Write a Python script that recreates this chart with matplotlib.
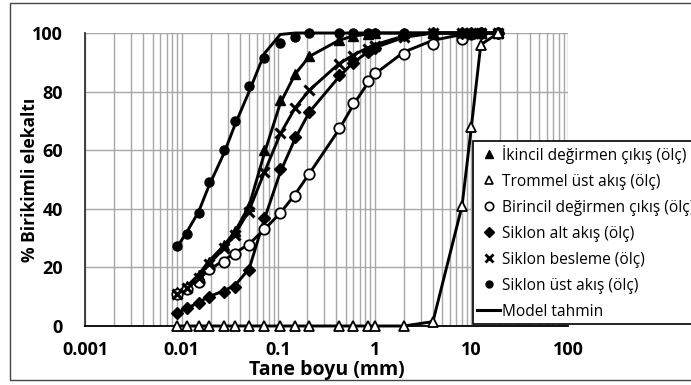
import matplotlib
matplotlib.use("Agg")
import matplotlib.pyplot as plt
from matplotlib.lines import Line2D
from matplotlib.patches import Rectangle

plt.rcParams['font.family'] = ['Open Sans', 'DejaVu Sans']

# Sieve sizes (mm)
sizes = [0.009, 0.0113, 0.015, 0.019, 0.0275, 0.036, 0.05, 0.072, 0.105, 0.15, 0.21,
         0.425, 0.6, 0.85, 1.0, 2.0, 4.0, 8.0, 10.0, 12.5, 19.0]

# Measured cumulative passing (%)
ikincil = [11.5, 13.5, 17.5, 22, 27.5, 32.5, 41, 60, 77, 86, 92,
           97.5, 99, 99.5, 100, 100, 100, 100, 100, 100, 100]
trommel = [0, 0, 0, 0, 0, 0, 0, 0, 0, 0, 0,
           0, 0, 0, 0, 0, 1.5, 41, 68, 96, 100]
birincil = [11, 12.5, 15, 19.5, 22, 24.5, 27.5, 33, 38.5, 44.5, 52,
            67.5, 76, 83.5, 86.3, 92.8, 96.2, 98, 99.5, 100, 100]
siklon_alt = [4.4, 6, 7.8, 10, 11.6, 13.3, 19, 37, 53.6, 64.5, 73,
              85.7, 89.7, 93.5, 95, 99.3, 100, 100, 100, 100, 100]
siklon_besleme = [11, 13, 16.5, 21, 26.5, 31, 39, 52.5, 66, 74.5, 80.5,
                  89.5, 92, 94.5, 95.5, 98.5, 100, 100, 100, 100, 100]
siklon_ust = [27.3, 31.5, 38.6, 49, 60, 70, 82, 91.5, 96.5, 98.5, 100,
              100, 100, 100, 100, 100, 100, 100, 100, 100, 100]

# Model predictions (%)
m_ikincil = [11.5, 13.5, 17.5, 22, 27.5, 32.5, 41, 59, 76, 86, 92,
             97.5, 99, 99.6, 100, 100, 100, 100, 100, 100, 100]
m_trommel = [0, 0, 0, 0, 0, 0, 0, 0, 0, 0, 0,
             0, 0, 0, 0, 0, 1.5, 41, 68, 96, 100]
m_birincil = [11, 13, 16, 19, 22.5, 25, 28, 33, 38.5, 45, 52,
              67, 75.5, 83, 86, 93.5, 97.5, 99.5, 99.8, 100, 100]
m_alt = [4.5, 6, 8, 10, 12, 14, 19.5, 36.5, 52.5, 64, 73,
         85, 90, 93.5, 95, 98.5, 100, 100, 100, 100, 100]
m_besleme = [11, 13, 16.5, 21, 26.5, 31.5, 39.5, 52.5, 65.5, 74.5, 80.5,
             89.5, 92.5, 95, 96, 99, 100, 100, 100, 100, 100]
m_ust = [27, 32, 39, 47.5, 59, 69, 80, 93, 99.5, 100, 100,
         100, 100, 100, 100, 100, 100, 100, 100, 100, 100]

labels = ["İkincil değirmen çıkış (ölç)", "Trommel üst akış (ölç)",
          "Birincil değirmen çıkış (ölç)", "Siklon alt akış (ölç)",
          "Siklon besleme (ölç)", "Siklon üst akış (ölç)", "Model tahmin"]

W, H = 691, 385
fig = plt.figure(figsize=(W / 100, H / 100), dpi=100)
ax = fig.add_axes([85 / W, 1 - 326 / H, (568 - 85) / W, (326 - 33) / H])

ax.set_xscale('log')
ax.set_xlim(0.001, 100)
ax.set_ylim(0, 100)

ax.grid(True, which='both', axis='x', color='#a8a8a8', lw=1.0)
ax.grid(True, which='major', axis='y', color='#a8a8a8', lw=1.0)
ax.set_axisbelow(True)
for s in ['top', 'right']:
    ax.spines[s].set_visible(False)
for s in ['left', 'bottom']:
    ax.spines[s].set_color('black')
    ax.spines[s].set_linewidth(1.3)
ax.spines['left'].set_color('#333333')

ax.set_xticks([0.001, 0.01, 0.1, 1, 10, 100])
ax.set_xticklabels(['0.001', '0.01', '0.1', '1', '10', '100'])
ax.set_yticks([0, 20, 40, 60, 80, 100])
ax.tick_params(axis='both', which='both', length=0)
ax.tick_params(axis='x', pad=11, labelsize=13)
ax.tick_params(axis='y', pad=16, labelsize=13)
for t in ax.get_xticklabels() + ax.get_yticklabels():
    t.set_fontweight('bold')

lw = 2.1
for m in [m_ikincil, m_trommel, m_birincil, m_alt, m_besleme, m_ust]:
    ax.plot(sizes, m, color='black', lw=lw, zorder=3, clip_on=False)

ax.plot(sizes, ikincil, ls='none', marker='^', ms=7.5, color='black', zorder=4, clip_on=False)
ax.plot(sizes, trommel, ls='none', marker='^', ms=7.5, mfc='white', mec='black', mew=1.3, zorder=5, clip_on=False)
ax.plot(sizes, birincil, ls='none', marker='o', ms=7.5, mfc='white', mec='black', mew=1.3, zorder=4, clip_on=False)
ax.plot(sizes, siklon_alt, ls='none', marker='D', ms=6.5, color='black', zorder=4, clip_on=False)
ax.plot(sizes, siklon_besleme, ls='none', marker='x', ms=7.5, mew=2.2, color='black', zorder=4, clip_on=False)
ax.plot(sizes, siklon_ust, ls='none', marker='o', ms=6.5, color='black', zorder=4, clip_on=False)

fig.text(326.5 / W, 1 - 370 / H, 'Tane boyu (mm)', fontsize=14, fontweight='bold',
         ha='center', va='center')
fig.text(30 / W, 1 - 180 / H, '% Birikimli elekaltı', fontsize=12.5, fontweight='bold',
         ha='center', va='center', rotation=90)

handles = [
    Line2D([], [], ls='none', marker='^', ms=6, color='black'),
    Line2D([], [], ls='none', marker='^', ms=6, mfc='white', mec='black', mew=1.2),
    Line2D([], [], ls='none', marker='o', ms=6, mfc='white', mec='black', mew=1.2),
    Line2D([], [], ls='none', marker='D', ms=5.5, color='black'),
    Line2D([], [], ls='none', marker='x', ms=6, mew=2, color='black'),
    Line2D([], [], ls='none', marker='o', ms=5, color='black'),
    Line2D([], [], color='black', lw=2.2),
]
leg = fig.legend(handles, labels, loc='upper left',
                 bbox_to_anchor=(473 / W, 1 - 141 / H), borderaxespad=0,
                 fontsize=11.2, frameon=True, fancybox=False, edgecolor='black',
                 framealpha=1, handlelength=1.5, handletextpad=0.1,
                 borderpad=0.25, labelspacing=0.64)
leg.get_frame().set_linewidth(1.2)

fig.patches.append(Rectangle((10 / W, 1 - 380 / H), 700 / W, 377 / H,
                             transform=fig.transFigure, fill=False,
                             edgecolor='#444444', lw=1.0))

fig.savefig('out.png', dpi=100)
